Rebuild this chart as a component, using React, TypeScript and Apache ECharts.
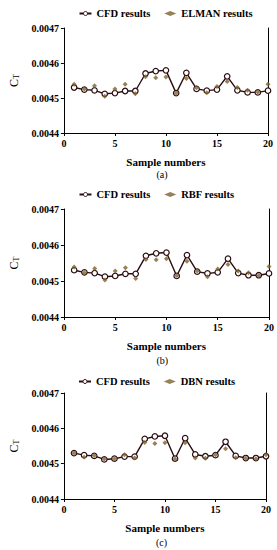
import React, { useEffect, useRef } from "react";
import * as echarts from "echarts";

const samples = [1, 2, 3, 4, 5, 6, 7, 8, 9, 10, 11, 12, 13, 14, 15, 16, 17, 18, 19, 20];
const cfd = [0.00453, 0.004524, 0.004522, 0.004512, 0.004514, 0.00452, 0.00452, 0.00457, 0.004577, 0.004579, 0.004514, 0.004572, 0.004526, 0.004521, 0.004524, 0.004562, 0.004522, 0.004516, 0.004516, 0.004521];
const elman = [0.004539, 0.004526, 0.004535, 0.004505, 0.004526, 0.004539, 0.004512, 0.004561, 0.004558, 0.00456, 0.004514, 0.004556, 0.004529, 0.004515, 0.004533, 0.004547, 0.00453, 0.004522, 0.004517, 0.004539];
const rbf = [0.004539, 0.004523, 0.004535, 0.004503, 0.004528, 0.004537, 0.004507, 0.00456, 0.004559, 0.004562, 0.004515, 0.004555, 0.004528, 0.004512, 0.004533, 0.004546, 0.004528, 0.004523, 0.004515, 0.00454];
const dbn = [0.00453, 0.004518, 0.004523, 0.004513, 0.004514, 0.004525, 0.004516, 0.00456, 0.004557, 0.004559, 0.004513, 0.004559, 0.004516, 0.004515, 0.004525, 0.004542, 0.004517, 0.004515, 0.004514, 0.004525];

const panelNames = ["ELMAN results", "RBF results", "DBN results"];
const panelData = [elman, rbf, dbn];
const captions = ["(a)", "(b)", "(c)"];
const xTitle = "Sample numbers";

const FONT = "'Liberation Serif', 'Times New Roman', serif";
const LINE = "#2a0d10";
const PRED = "#7d6230";

export default function App() {
  const ref = useRef<HTMLDivElement>(null);
  useEffect(() => {
    document.body.style.margin = "0";
    const chart = echarts.init(ref.current!, null, { renderer: "svg" });
    const grids = [
      { left: 59, top: 28, width: 209, height: 105 },
      { left: 57, top: 209, width: 213, height: 108 },
      { left: 60, top: 393, width: 206, height: 106 },
    ];
    const legendTops = [3, 184, 371];
    const captionTops = [169, 355, 537];
    const xAxis: any[] = [];
    const yAxis: any[] = [];
    const series: any[] = [];
    const legend: any[] = [];
    const graphic: any[] = [];
    grids.forEach((g, i) => {
      xAxis.push({
        type: "value",
        gridIndex: i,
        min: 0,
        max: 20,
        interval: 5,
        name: xTitle,
        nameLocation: "middle",
        nameGap: 23,
        nameTextStyle: { fontFamily: FONT, fontWeight: "bold", fontSize: 11, color: "#000" },
        axisLine: { lineStyle: { color: "#000", width: 1 } },
        axisTick: { show: true, length: 3, lineStyle: { color: "#000" } },
        axisLabel: { fontFamily: FONT, fontWeight: "bold", fontSize: 10, color: "#000", margin: 5 },
        splitLine: { show: false },
      });
      yAxis.push({
        type: "value",
        gridIndex: i,
        min: 0.0044,
        max: 0.0047,
        interval: 0.0001,
        name: "{c|C}{t|T}",
        nameLocation: "middle",
        nameRotate: 90,
        nameGap: 42,
        nameTextStyle: {
          fontFamily: FONT,
          color: "#000",
          rich: {
            c: { fontFamily: FONT, fontSize: 12, color: "#000" },
            t: { fontFamily: FONT, fontSize: 8, color: "#000", padding: [5, 0, 0, 0] },
          },
        },
        axisLine: { show: true, lineStyle: { color: "#000", width: 1 } },
        axisTick: { show: true, length: 3, lineStyle: { color: "#000" } },
        axisLabel: {
          fontFamily: FONT,
          fontWeight: "bold",
          fontSize: 10,
          color: "#000",
          margin: 5,
          formatter: (v: number) => v.toFixed(4),
        },
        splitLine: { show: false },
      });
      yAxis.push({
        type: "value",
        gridIndex: i,
        position: "right",
        min: 0.0044,
        max: 0.0047,
        axisLine: { show: true, lineStyle: { color: "#000", width: 1 } },
        axisTick: { show: false },
        axisLabel: { show: false },
        splitLine: { show: false },
      });
      series.push({
        name: "CFD results",
        type: "line",
        xAxisIndex: i,
        yAxisIndex: i * 2,
        data: samples.map((s, k) => [s, cfd[k]]),
        symbol: "circle",
        symbolSize: 5.5,
        lineStyle: { color: LINE, width: 1.4 },
        itemStyle: { color: "#fff", borderColor: LINE, borderWidth: 1.2 },
        z: 2,
      });
      series.push({
        name: panelNames[i],
        type: "scatter",
        xAxisIndex: i,
        yAxisIndex: i * 2,
        data: samples.map((s, k) => [s, panelData[i][k]]),
        symbol: "diamond",
        symbolSize: 5,
        itemStyle: { color: PRED },
        z: 3,
      });
      legend.push({
        top: legendTops[i],
        left: g.left + g.width / 2 - 90,
        data: [
          { name: "CFD results", itemStyle: { color: "#fff", borderColor: LINE, borderWidth: 1 } },
          { name: panelNames[i], icon: "diamond", itemStyle: { color: PRED } },
        ],
        itemWidth: 12,
        itemHeight: 5,
        itemGap: 14,
        textStyle: { fontFamily: FONT, fontWeight: "bold", fontSize: 10.5, color: "#000" },
      });
      graphic.push({
        type: "text",
        left: g.left + g.width / 2 - 7,
        top: captionTops[i],
        style: { text: captions[i], font: `10px ${FONT}`, fill: "#000" },
      });
    });
    chart.setOption({
      animation: false,
      backgroundColor: "#fff",
      grid: grids,
      xAxis,
      yAxis,
      series,
      legend,
      graphic,
    });
    return () => chart.dispose();
  }, []);
  return <div ref={ref} style={{ width: 277, height: 550 }} />;
}
